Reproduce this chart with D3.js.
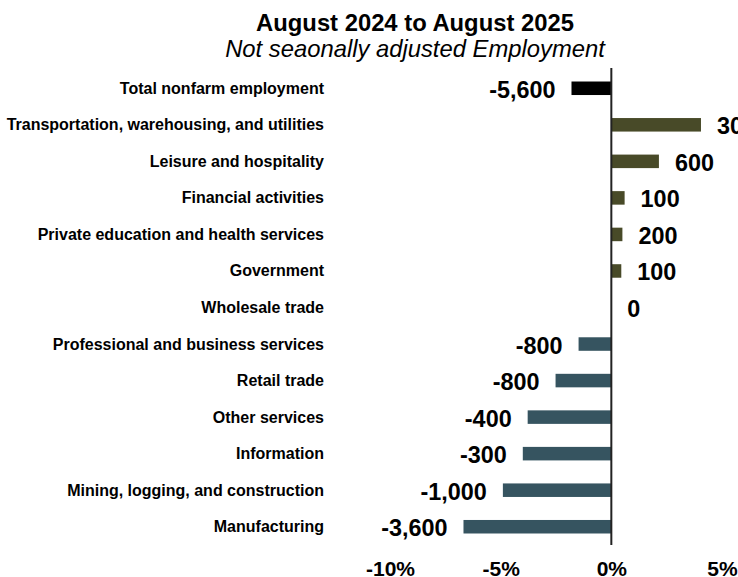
<!DOCTYPE html>
<html>
<head>
<meta charset="utf-8">
<script src="https://cdn.jsdelivr.net/npm/d3@7"></script>
<style>
  html, body { margin: 0; padding: 0; background: #fff; }
  svg { display: block; font-family: "Liberation Sans", Arial, sans-serif; }
</style>
</head>
<body>
<div id="chart"></div>
<script>
const categories = [
  "Total nonfarm employment",
  "Transportation, warehousing, and utilities",
  "Leisure and hospitality",
  "Financial activities",
  "Private education and health services",
  "Government",
  "Wholesale trade",
  "Professional and business services",
  "Retail trade",
  "Other services",
  "Information",
  "Mining, logging, and construction",
  "Manufacturing"
];
// percent change (bar length)
const pctChange = [-1.8, 4.05, 2.15, 0.6, 0.5, 0.45, 0, -1.48, -2.52, -3.78, -4.0, -4.9, -6.68];
// employment change (data labels)
const jobChange = [-5600, 300, 600, 100, 200, 100, 0, -800, -800, -400, -300, -1000, -3600];
const groups = ["total", "pos", "pos", "pos", "pos", "pos", "pos", "neg", "neg", "neg", "neg", "neg", "neg"];
const tickValues = [-10, -5, 0, 5];
const tickLabels = ["-10%", "-5%", "0%", "5%"];
const titleText = "August 2024 to August 2025";
const subtitleText = "Not seaonally adjusted Employment";

const W = 738, H = 577;
const colors = { total: "#000000", pos: "#484a28", neg: "#365460" };

const svg = d3.select("#chart").append("svg")
  .attr("width", W).attr("height", H);

const x = d3.scaleLinear().domain([-10, 5]).range([390, 722]);
const y = d3.scaleBand().domain(categories).range([70, 545]).paddingInner(0.63).paddingOuter(0.315);

const rows = categories.map((c, i) => ({ cat: c, pct: pctChange[i], jobs: jobChange[i], g: groups[i] }));

// title
svg.append("text").attr("x", 415).attr("y", 31)
  .attr("text-anchor", "middle").attr("font-size", 23.8).attr("font-weight", "bold")
  .text(titleText);
svg.append("text").attr("x", 415).attr("y", 57)
  .attr("text-anchor", "middle").attr("font-size", 23.8).attr("font-style", "italic")
  .text(subtitleText);

// bars
svg.append("g").selectAll("rect").data(rows).join("rect")
  .attr("x", d => x(Math.min(0, d.pct)))
  .attr("width", d => Math.abs(x(d.pct) - x(0)))
  .attr("y", d => y(d.cat))
  .attr("height", y.bandwidth())
  .attr("fill", d => colors[d.g]);

// zero axis line
svg.append("line")
  .attr("x1", x(0)).attr("x2", x(0))
  .attr("y1", 68).attr("y2", 545)
  .attr("stroke", "#222").attr("stroke-width", 2);

// category labels
svg.append("g").selectAll("text").data(rows).join("text")
  .attr("x", 324)
  .attr("y", d => y(d.cat) + y.bandwidth() / 2 + 5.5)
  .attr("text-anchor", "end")
  .attr("font-size", 16).attr("font-weight", "bold")
  .text(d => d.cat);

// data labels
const fmt = d3.format(",");
svg.append("g").selectAll("text").data(rows).join("text")
  .attr("x", d => d.pct < 0 ? x(d.pct) - 16 : x(d.pct) + 16)
  .attr("y", d => y(d.cat) + y.bandwidth() / 2 + 9.5)
  .attr("text-anchor", d => d.pct < 0 ? "end" : "start")
  .attr("font-size", 23.4).attr("font-weight", "bold")
  .text(d => d.jobs < 0 ? "-" + fmt(-d.jobs) : fmt(d.jobs));

// x axis tick labels
const xAxis = d3.axisBottom(x).tickValues(tickValues)
  .tickFormat((d, i) => tickLabels[i]).tickSize(0).tickPadding(0);
const ax = svg.append("g").attr("transform", "translate(0,561)").call(xAxis);
ax.select(".domain").remove();
ax.selectAll("text")
  .attr("font-size", 21).attr("font-weight", "bold")
  .attr("font-family", "Liberation Sans, Arial, sans-serif")
  .attr("fill", "#000").attr("dy", "0.72em");
</script>
</body>
</html>
